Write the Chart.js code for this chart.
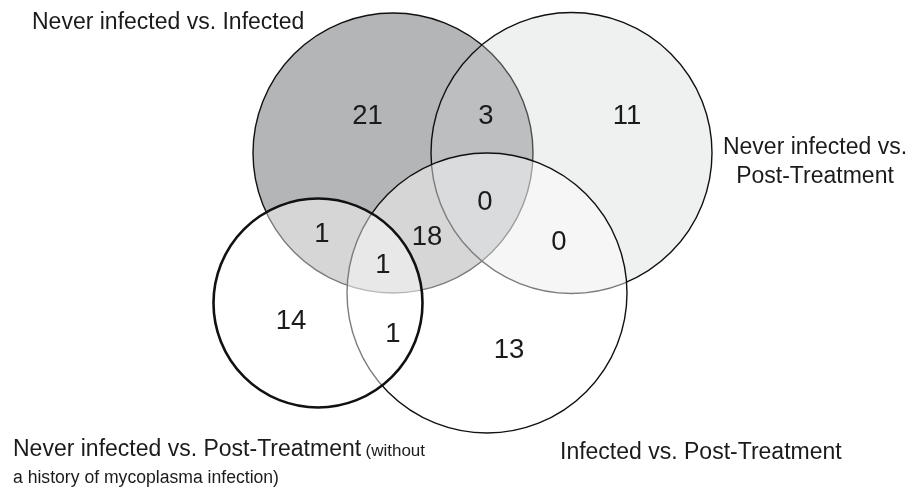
<!DOCTYPE html>
<html lang="en">
    <head>
        <meta charset="utf-8" />
        <title>Venn diagram</title>
        <script src="https://cdn.jsdelivr.net/npm/chart.js@4/dist/chart.umd.min.js"></script>
        <style>
            html, body { margin: 0; padding: 0; background: #fff; }
            #venn-wrap { width: 917px; height: 487px; }
        </style>
    </head>
    <body>
        <div id="venn-wrap">
            <canvas id="venn" width="917" height="487"></canvas>
        </div>
        <script>
        // sets (circles), in diagram units (1 unit = 100 px on the page)
        var setNames = ['Never infected vs. Infected', 'Never infected vs. Post-Treatment',
                        'Infected vs. Post-Treatment', 'Never infected vs. Post-Treatment (no mycoplasma history)'];
        var circleX = [3.93, 5.715, 4.87, 3.18];
        var circleY = [1.53, 1.53, 2.93, 3.03];
        var circleR = [1.40, 1.405, 1.40, 1.045];

        // region counts and where they sit
        var counts = [21, 3, 11, 0, 1, 18, 0, 1, 14, 1, 13];
        var countX = [3.675, 4.86, 6.27, 4.85, 3.22, 4.27, 5.59, 3.83, 2.91, 3.93, 5.09];
        var countY = [1.16, 1.16, 1.16, 2.02, 2.34, 2.37, 2.42, 2.65, 3.21, 3.34, 3.50];

        // set captions
        var captionText = ['Never infected vs. Infected', 'Never infected vs.', 'Post-Treatment',
                           'Never infected vs. Post-Treatment', '(without', 'a history of mycoplasma infection)',
                           'Infected vs. Post-Treatment'];
        var captionX = [0.32, 8.15, 8.15, 0.13, 3.655, 0.13, 5.60];
        var captionY = [0.225, 1.48, 1.77, 4.50, 4.51, 4.78, 4.53];

        var fills = ['rgb(180,181,183)', 'rgba(205,207,207,0.32)', 'rgba(255,255,255,0.45)', 'rgba(255,255,255,0.45)'];
        var borderW = [1.4, 1.4, 1.4, 2.6];
        var captionFont = ['23px', '23px', '23px', '23px', '17px', '17.6px', '23px'];
        var captionAlign = ['left', 'center', 'center', 'left', 'left', 'left', 'left'];

        var datasets = [];
        for (var i = 0; i < circleX.length; i++) {
            (function (k) {
                datasets.push({
                    label: setNames[k],
                    data: [{ x: circleX[k], y: circleY[k] }],
                    showLine: false,
                    pointBackgroundColor: fills[k],
                    pointBorderColor: '#111',
                    pointBorderWidth: borderW[k],
                    order: circleX.length - k,
                    pointRadius: function (ctx) {
                        var s = ctx.chart.scales.x;
                        return Math.abs(s.getPixelForValue(circleR[k]) - s.getPixelForValue(0));
                    }
                });
            })(i);
        }

        var labelPlugin = {
            id: 'vennLabels',
            afterDatasetsDraw: function (chart) {
                var c = chart.ctx, sx = chart.scales.x, sy = chart.scales.y;
                c.save();
                c.fillStyle = '#1b1b1b';
                c.textAlign = 'center';
                c.textBaseline = 'middle';
                c.font = '27.5px "Liberation Sans", Arial, sans-serif';
                for (var i = 0; i < counts.length; i++) {
                    c.fillText(String(counts[i]), sx.getPixelForValue(countX[i]), sy.getPixelForValue(countY[i]));
                }
                for (var j = 0; j < captionText.length; j++) {
                    c.font = captionFont[j] + ' "Liberation Sans", Arial, sans-serif';
                    c.textAlign = captionAlign[j];
                    c.fillText(captionText[j], sx.getPixelForValue(captionX[j]), sy.getPixelForValue(captionY[j]));
                }
                c.restore();
            }
        };

        var ctx = document.getElementById('venn').getContext('2d');
        var chart = new Chart(ctx, {
            type: 'scatter',
            data: { datasets: datasets },
            options: {
                responsive: false,
                animation: false,
                events: [],
                layout: { padding: 0 },
                plugins: { legend: { display: false }, tooltip: { enabled: false } },
                scales: {
                    x: { type: 'linear', min: 0, max: 9.17, display: false },
                    y: { type: 'linear', min: 0, max: 4.87, reverse: true, display: false }
                }
            },
            plugins: [labelPlugin]
        });
        </script>
    </body>
</html>
